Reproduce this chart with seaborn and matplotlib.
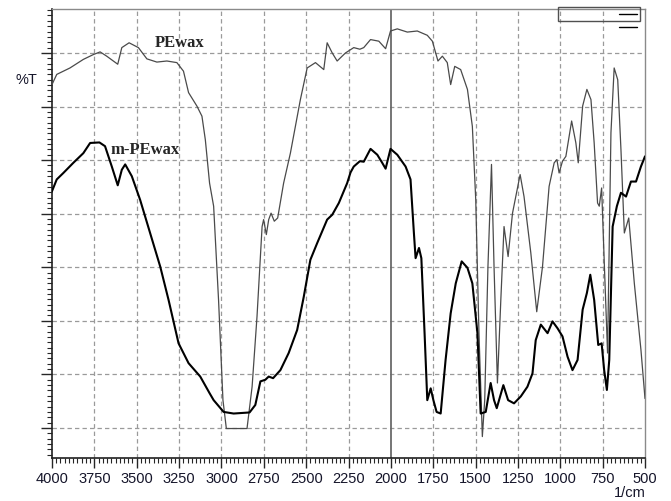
import numpy as np
import pandas as pd
import seaborn as sns
import matplotlib
matplotlib.use("Agg")
import matplotlib.pyplot as plt
from matplotlib.ticker import MultipleLocator, NullFormatter
from matplotlib.patches import Rectangle
from matplotlib.lines import Line2D

# ---- data (wavenumber in 1/cm, transmittance in arbitrary %T units) ----
pewax_wn = [4000, 3972, 3894, 3815, 3756, 3716, 3677, 3638, 3612, 3588, 3545, 3490, 3440, 3381,
            3322, 3263, 3224, 3194, 3145, 3115, 3095, 3070, 3046, 3017, 2991, 2971, 2849, 2819,
            2790, 2760, 2751, 2735, 2721, 2707, 2688, 2668, 2633, 2593, 2534, 2494, 2445, 2396,
            2376, 2346, 2317, 2268, 2219, 2183, 2160, 2120, 2071, 2031, 2002, 1962, 1903, 1844,
            1785, 1755, 1722, 1696, 1667, 1647, 1623, 1588, 1548, 1519, 1499, 1480, 1460, 1446,
            1427, 1406, 1391, 1371, 1351, 1332, 1308, 1282, 1237, 1214, 1174, 1139, 1105, 1066,
            1036, 1020, 1007, 987, 967, 933, 908, 894, 868, 843, 819, 800, 780, 770, 756, 741,
            721, 701, 682, 661, 642, 622, 596, 563, 524, 500]
pewax_t = [74.1, 76.0, 77.2, 78.8, 79.7, 80.2, 79.4, 78.5, 77.9, 81.0, 81.9, 81.0, 78.9, 78.3,
           78.5, 78.2, 76.6, 72.6, 70.1, 68.2, 63.8, 55.7, 51.4, 33.9, 15.2, 9.9, 9.9, 17.7,
           30.8, 47.6, 48.9, 46.1, 48.9, 50.1, 48.6, 49.2, 55.7, 61.3, 71.3, 77.2, 78.2, 76.9,
           81.9, 80.0, 78.5, 80.0, 81.0, 80.7, 81.0, 82.5, 82.2, 80.8, 84.1, 84.5, 83.9, 84.1,
           83.3, 82.2, 78.5, 79.4, 78.2, 74.1, 77.5, 76.9, 73.2, 66.3, 52.6, 27.7, 8.4, 15.2,
           40.1, 59.2, 40.1, 18.4, 33.9, 47.6, 42.0, 50.1, 57.3, 53.2, 42.7, 31.7, 40.1, 55.1,
           59.5, 60.1, 57.6, 59.8, 60.7, 67.3, 63.2, 59.5, 70.1, 73.2, 71.3, 63.2, 52.0, 51.4,
           54.8, 41.4, 24.0, 65.1, 77.2, 75.0, 62.0, 46.4, 49.2, 37.0, 24.6, 15.5]

mpewax_wn = [4000, 3972, 3933, 3874, 3815, 3775, 3720, 3687, 3647, 3612, 3588, 3568, 3529, 3480,
             3421, 3361, 3312, 3253, 3194, 3125, 3070, 3046, 2987, 2928, 2834, 2800, 2770, 2741,
             2721, 2695, 2652, 2603, 2553, 2514, 2475, 2435, 2376, 2346, 2307, 2258, 2238, 2219,
             2183, 2160, 2120, 2080, 2051, 2031, 2002, 1962, 1913, 1884, 1864, 1854, 1834, 1820,
             1801, 1785, 1765, 1749, 1730, 1706, 1677, 1647, 1617, 1582, 1548, 1519, 1489, 1470,
             1440, 1411, 1391, 1375, 1336, 1308, 1273, 1233, 1194, 1164, 1145, 1115, 1075, 1046,
             1016, 987, 957, 928, 898, 868, 843, 823, 800, 776, 756, 741, 725, 711, 691, 666,
             642, 612, 583, 553, 524, 500]
mpewax_t = [54.2, 56.4, 57.6, 59.5, 61.3, 63.2, 63.3, 62.6, 58.8, 55.3, 58.2, 59.2, 57.0, 52.6,
            46.4, 40.1, 33.9, 25.8, 22.1, 19.6, 16.5, 15.2, 13.0, 12.7, 12.9, 14.3, 18.7, 19.0,
            19.6, 19.3, 20.8, 24.0, 28.3, 34.5, 41.4, 44.5, 48.9, 49.8, 52.0, 55.7, 57.7, 58.8,
            59.8, 59.7, 62.1, 61.0, 59.5, 58.4, 62.1, 61.0, 58.8, 56.4, 46.4, 41.7, 43.6, 41.7,
            27.7, 15.2, 17.4, 15.2, 13.0, 12.7, 22.7, 31.4, 37.0, 41.1, 39.9, 37.0, 27.7, 12.7,
            13.0, 18.4, 15.2, 13.7, 18.0, 15.2, 14.6, 15.9, 17.7, 20.2, 26.4, 29.3, 27.7, 29.9,
            28.6, 27.1, 23.3, 20.8, 22.7, 32.1, 35.2, 38.6, 33.9, 25.5, 25.8, 20.8, 17.1, 22.7,
            47.6, 51.4, 53.9, 53.2, 56.0, 56.0, 58.8, 60.7]

x_ticks = [4000, 3750, 3500, 3250, 3000, 2750, 2500, 2250, 2000, 1750, 1500, 1250, 1000, 750, 500]

df_pe = pd.DataFrame({"wn": pewax_wn, "T": pewax_t})
df_m = pd.DataFrame({"wn": mpewax_wn, "T": mpewax_t})

sns.set_style("white")
plt.rcParams['font.family'] = ['Liberation Sans', 'DejaVu Sans']

fig = plt.figure(figsize=(6.71, 5.01), dpi=100)
ax = fig.add_axes([52 / 671, 43 / 501, 593 / 671, 449.5 / 501])

# grid
grid_kw = dict(color="#9a9a9a", lw=0.9, ls=(0, (3.5, 2.5)), zorder=0)
for xv in x_ticks:
    if xv not in (4000, 500, 2000):
        ax.axvline(xv, **grid_kw)
for yv in range(10, 90, 10):
    ax.axhline(yv, **grid_kw)
ax.axvline(2000, color="#6a6a6a", lw=1.3, zorder=1)

sns.lineplot(data=df_pe, x="wn", y="T", sort=False, estimator=None, ax=ax,
             color="#4a4a4a", lw=0.9, zorder=3)
sns.lineplot(data=df_m, x="wn", y="T", sort=False, estimator=None, ax=ax,
             color="black", lw=1.5, zorder=4)

ax.set_xlim(4000, 500)
ax.set_ylim(4.4, 88.3)
ax.set_xlabel("")
ax.set_ylabel("")

ax.set_xticks(x_ticks)
ax.set_xticklabels([str(v) for v in x_ticks], fontsize=10.5, color="#15152a")
ax.xaxis.set_minor_locator(MultipleLocator(25))
ax.set_yticks(range(10, 90, 10))
ax.yaxis.set_major_formatter(NullFormatter())
ax.yaxis.set_minor_locator(MultipleLocator(1))
ax.tick_params(axis="x", which="major", direction="out", length=7, width=1.0, pad=3, bottom=True)
ax.tick_params(axis="x", which="minor", direction="out", length=3.5, width=0.8, bottom=True)
ax.tick_params(axis="y", which="major", direction="out", length=8, width=1.0, left=True)
ax.tick_params(axis="y", which="minor", direction="out", length=3.5, width=0.8, left=True)

for s in ("left", "bottom"):
    ax.spines[s].set_color("#202020")
    ax.spines[s].set_linewidth(1.2)
for s in ("top", "right"):
    ax.spines[s].set_color("#8a8a8a")
    ax.spines[s].set_linewidth(1.0)

# annotations
ax.text(3391, 81.8, "PEwax", family=["Liberation Serif", "DejaVu Serif"], fontweight="bold",
        fontsize=12, va="center", ha="left", zorder=5)
ax.text(3657, 61.8, "m-PEwax", family=["Liberation Serif", "DejaVu Serif"], fontweight="bold",
        fontsize=12, va="center", ha="left", zorder=5)
fig.text(15 / 671, 1 - 80 / 501, "%T", fontsize=10.5, color="#15152a", va="center", ha="left")
fig.text(630 / 671, 1 - 493 / 501, "1/cm", fontsize=10.5, color="#15152a", va="center", ha="center")

# small box artifact at top right
ax.add_patch(Rectangle((0.853, 0.973), 0.1386, 0.03, transform=ax.transAxes, fill=False,
                       edgecolor="#505050", lw=1.0, clip_on=False, zorder=6))
ax.add_line(Line2D([0.956, 0.9865], [0.988, 0.988], transform=ax.transAxes, color="black", lw=1.0, zorder=6))
ax.add_line(Line2D([0.956, 0.9865], [0.9595, 0.9595], transform=ax.transAxes, color="black", lw=1.0, zorder=6))

fig.savefig("out.png", dpi=100)
